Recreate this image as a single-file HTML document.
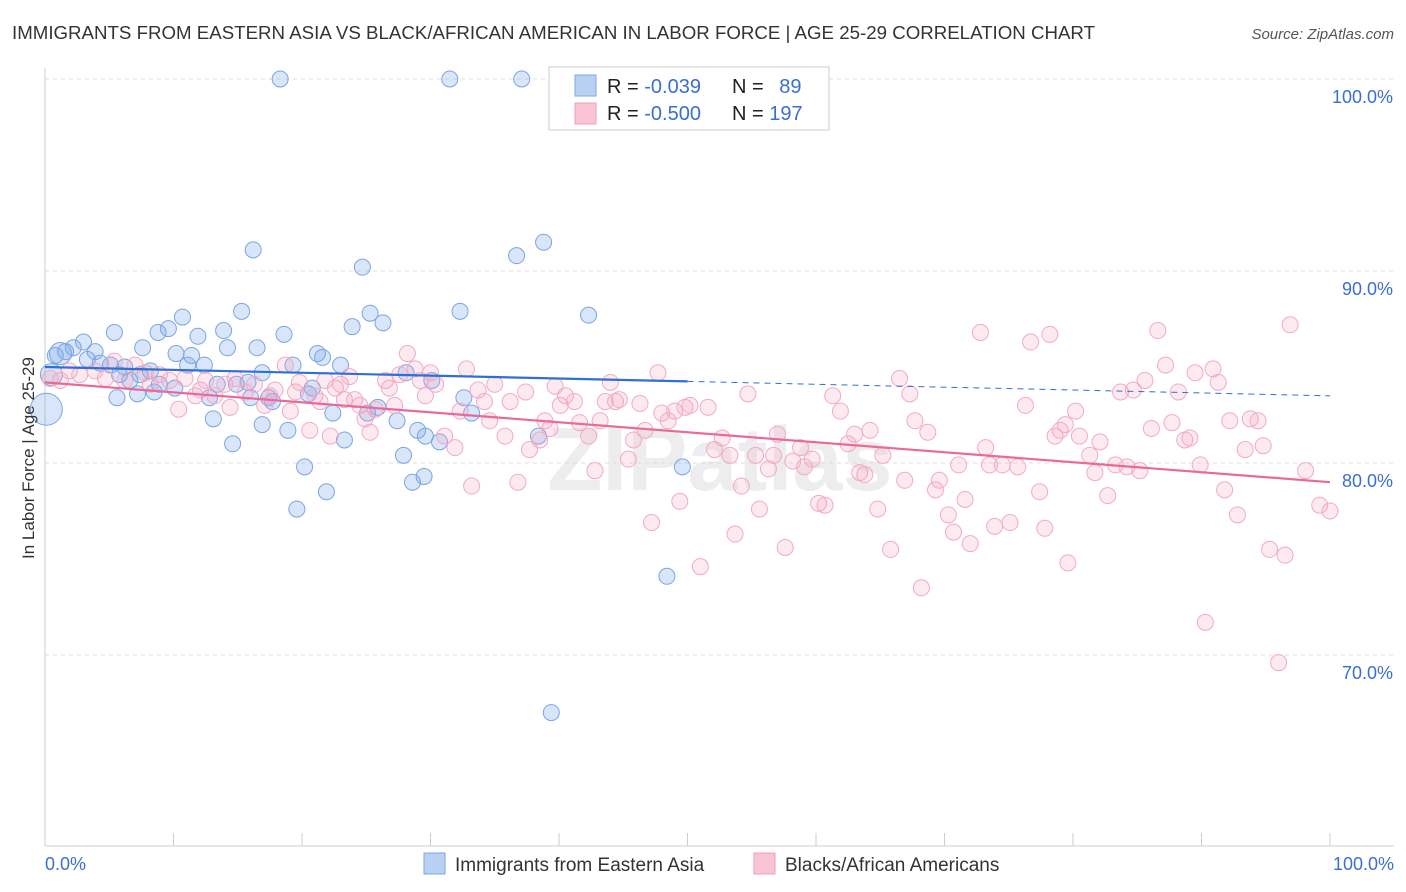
<!DOCTYPE html>
<html><head><meta charset="utf-8"><style>
body{margin:0;background:#fff;font-family:"Liberation Sans",sans-serif;}
svg{display:block}
</style></head><body>
<svg id="chart" width="1406" height="892" xmlns="http://www.w3.org/2000/svg">
<text x="12" y="39" font-size="18" fill="#333" textLength="1083" lengthAdjust="spacingAndGlyphs">IMMIGRANTS FROM EASTERN ASIA VS BLACK/AFRICAN AMERICAN IN LABOR FORCE | AGE 25-29 CORRELATION CHART</text>
<text x="1394" y="39" font-size="15" fill="#555" font-style="italic" text-anchor="end">Source: ZipAtlas.com</text>
<text x="720" y="490" font-size="90" fill="#ededf0" text-anchor="middle" font-weight="bold">ZIPatlas</text>
<g id="grid"></g><g id="pts"></g><g id="lines"></g>
<text transform="translate(34,458) rotate(-90)" font-size="17" fill="#333" text-anchor="middle">In Labor Force | Age 25-29</text>
<g>
<rect x="549" y="67" width="280" height="63" fill="#fff" stroke="#ccc"/>
<rect x="575" y="75" width="21" height="21" fill="#b8d0f2" stroke="#7fa7e0"/>
<rect x="575" y="103" width="21" height="21" fill="#f8c4d4" stroke="#f0a0bb"/>
<text x="607" y="93" font-size="20" fill="#222">R = <tspan fill="#3a6fd0">-0.039</tspan></text>
<text x="732" y="93" font-size="20" fill="#222">N = <tspan fill="#3a6fd0" dx="10">89</tspan></text>
<text x="607" y="120" font-size="20" fill="#222">R = <tspan fill="#3a6fd0">-0.500</tspan></text>
<text x="732" y="120" font-size="20" fill="#222">N = <tspan fill="#3a6fd0">197</tspan></text>
</g>
<g>
<rect x="424" y="853" width="21" height="21" fill="#b8d0f2" stroke="#7fa7e0"/>
<text x="455" y="871" font-size="19" fill="#333">Immigrants from Eastern Asia</text>
<rect x="754" y="853" width="21" height="21" fill="#f8c4d4" stroke="#f0a0bb"/>
<text x="785" y="871" font-size="19" fill="#333">Blacks/African Americans</text>
</g>
<text x="45" y="870" font-size="18" fill="#3a6fd0">0.0%</text>
<text x="1394" y="870" font-size="18" fill="#3a6fd0" text-anchor="end">100.0%</text>
</svg>
<script>
const yTicks=[100,90,80,70];
const yTickLabels=["100.0%","90.0%","80.0%","70.0%"];
const xTicks=[0,10,20,30,40,50,60,70,80,90,100];
const blueX=[18.3,31.5,37.1,45.8,16.2,36.7,38.8,24.7,15.3,32.3,42.3,25.3,26.3,23.9,10.7,9.6,8.8,5.4,11.9,13.9,18.6,7.6,14.2,16.5,10.2,11.4,21.2,21.6,3.0,2.2,1.6,0.8,3.9,3.3,4.3,5.1,6.2,8.2,11.1,12.4,19.3,23.0,28.1,30.1,16.9,5.8,7.4,8.9,10.1,7.2,5.6,8.5,12.8,13.4,14.9,16.0,17.4,17.7,20.5,20.8,15.8,13.1,14.6,16.9,18.9,23.3,22.4,25.1,25.9,27.4,29.0,29.6,30.7,32.6,33.2,27.9,28.6,29.5,20.2,19.6,21.9,38.4,49.6,48.4,39.4,0.1,0.5,1.2,6.6];
const blueY=[100,100,100,100,91.1,90.8,91.5,90.2,87.9,87.9,87.7,87.8,87.3,87.1,87.6,87.0,86.8,86.8,86.6,86.9,86.7,86.0,86.0,86.0,85.7,85.6,85.7,85.5,86.3,86.0,85.8,85.6,85.8,85.4,85.2,85.1,85.0,84.8,85.1,85.1,85.1,85.1,84.7,84.3,84.7,84.6,84.6,84.1,83.9,83.6,83.4,83.7,83.4,84.1,84.1,83.4,83.4,83.2,83.6,83.9,84.2,82.3,81.0,82.0,81.7,81.2,82.6,82.6,82.9,82.2,81.7,81.4,81.1,83.4,82.6,80.4,79.0,79.3,79.8,77.6,78.5,81.4,79.8,74.1,67.0,82.8,84.6,85.7,84.3];
const pinkX=[0.4,1.2,1.9,2.7,3.9,4.7,5.4,6.2,7.0,7.8,8.2,8.9,9.7,10.4,10.9,11.7,12.1,12.5,13.2,14.0,14.4,14.8,15.6,16.3,17.1,17.5,17.9,18.7,19.1,19.5,19.8,20.6,21.0,21.4,21.8,22.2,22.6,23.0,23.3,23.7,24.1,24.5,24.9,25.3,25.7,26.5,26.8,27.2,27.6,28.2,28.8,29.2,29.6,30.0,30.4,31.1,31.9,32.3,32.8,33.2,33.7,34.2,34.6,35.0,35.8,36.2,36.8,37.4,37.7,38.5,38.9,39.3,39.7,40.1,40.5,41.2,41.6,42.3,42.8,43.2,43.6,44.0,44.4,44.7,45.4,45.8,46.3,46.7,47.2,47.7,48.0,48.5,49.0,49.4,49.8,50.2,51.0,51.6,52.1,52.7,53.3,53.7,54.2,54.7,55.3,55.6,56.3,56.7,57.0,57.6,58.2,58.8,59.1,59.7,60.2,60.7,61.3,61.9,62.5,63.0,63.4,63.8,64.2,64.8,65.2,65.8,66.5,66.9,67.3,67.7,68.2,68.7,69.3,69.6,70.3,70.7,71.1,71.6,72.0,72.8,73.2,73.5,73.9,74.5,75.1,75.7,76.3,76.7,77.4,77.8,78.2,78.6,79.0,79.4,79.6,80.2,80.5,81.3,81.7,82.1,82.7,83.3,83.7,84.2,84.7,85.2,85.6,86.1,86.6,87.2,87.7,88.2,88.7,89.1,89.5,89.9,90.3,90.9,91.3,91.8,92.2,92.8,93.4,93.8,94.4,94.8,95.3,96.0,96.5,96.9,98.1,99.2,100];
const pinkY=[84.4,84.3,84.8,84.6,84.8,84.4,85.3,84.3,85.1,84.7,84.1,84.6,84.3,82.8,84.4,83.5,83.8,84.3,83.5,84.1,82.9,84.4,83.7,84.1,83.0,83.5,83.8,85.1,82.7,83.7,84.2,81.7,83.5,83.2,84.3,81.4,83.9,84.1,83.3,84.5,83.3,83.0,82.3,81.6,82.8,84.3,83.9,83.0,84.6,85.7,84.9,84.3,83.5,84.7,84.1,81.4,80.8,82.7,84.9,78.8,83.8,83.2,82.2,84.1,81.4,83.2,79.0,83.7,80.7,81.2,82.2,81.8,84.0,83.0,83.5,83.2,82.1,81.4,79.6,82.2,83.2,84.2,83.2,83.3,80.2,81.2,83.1,81.7,76.9,84.7,82.6,82.2,82.7,78.0,82.9,83.0,74.6,82.9,80.7,81.3,80.4,76.3,78.8,83.6,80.4,77.6,79.7,80.4,81.5,75.6,80.1,80.8,79.8,80.2,77.9,77.8,83.5,82.7,81.0,81.5,79.5,79.4,81.7,77.6,80.4,75.5,84.4,79.1,83.6,82.2,73.5,81.6,78.6,79.1,77.3,76.4,79.9,78.1,75.8,86.8,80.8,79.9,76.7,79.9,76.9,79.8,83.0,86.3,78.5,76.6,86.7,81.4,81.7,82.0,74.8,82.7,81.4,80.4,79.5,81.1,78.3,79.9,83.7,79.8,83.8,79.6,84.3,81.8,86.9,85.1,82.1,83.7,81.2,81.3,84.7,79.9,71.7,84.9,84.2,78.6,82.2,77.3,80.7,82.3,82.2,80.9,75.5,69.6,75.2,87.2,79.6,77.8,77.5];
const blueTrend=[85.0,83.5];
const pinkTrend=[84.2,79.0];
const sx=v=>45+v*12.85, sy=v=>79+(100-v)*19.2;
const NS="http://www.w3.org/2000/svg";
function mk(t,a,p){const e=document.createElementNS(NS,t);for(const k in a)e.setAttribute(k,a[k]);p.appendChild(e);return e;}
const grid=document.getElementById('grid');
yTicks.forEach((t,i)=>{
  const l=mk('line',{x1:45,x2:1394,y1:sy(t),y2:sy(t),stroke:'#ddd','stroke-dasharray':'4,4'},grid);
  
  
  const tx=mk('text',{x:1393,y:sy(t)+24,'font-size':18,fill:'#3a6fd0','text-anchor':'end'},grid);
  tx.textContent=yTickLabels[i];
  
  
});
const ax=mk('line',{x1:45,x2:45,y1:68,y2:846,stroke:'#ccc'},grid);


const bx=mk('line',{x1:45,x2:1394,y1:846,y2:846,stroke:'#ccc'},grid);


xTicks.forEach(t=>{
  const l=mk('line',{x1:sx(t),x2:sx(t),y1:833,y2:846,stroke:'#ccc'},grid);
  
  
});
const pts=document.getElementById('pts');
blueX.forEach((x,i)=>{
  const r=(i>=85&&i<=87)?(i==85?16:11):8;
  const c=mk('circle',{cx:sx(x),cy:sy(blueY[i]),r:r,fill:'rgba(120,165,235,0.28)',stroke:'#7aa5e4','stroke-width':1},pts);
  
  
});
pinkX.forEach((x,i)=>{
  const c=mk('circle',{cx:sx(x),cy:sy(pinkY[i]),r:8,fill:'rgba(245,160,190,0.22)',stroke:'#f2aac2','stroke-width':1},pts);
  
  
});
const lines=document.getElementById('lines');
const bm=blueTrend[0]+(blueTrend[1]-blueTrend[0])*0.5;
const b1=mk('line',{x1:sx(0),y1:sy(blueTrend[0]),x2:sx(50),y2:sy(bm),stroke:'#2f6fd6','stroke-width':2.2},lines);


const b2=mk('line',{x1:sx(50),y1:sy(bm),x2:sx(100),y2:sy(blueTrend[1]),stroke:'#2f6fd6','stroke-width':1,'stroke-dasharray':'6,5'},lines);


const p1=mk('line',{x1:sx(0),y1:sy(pinkTrend[0]),x2:sx(100),y2:sy(pinkTrend[1]),stroke:'#e8699a','stroke-width':2.2},lines);


</script>
</body></html>
